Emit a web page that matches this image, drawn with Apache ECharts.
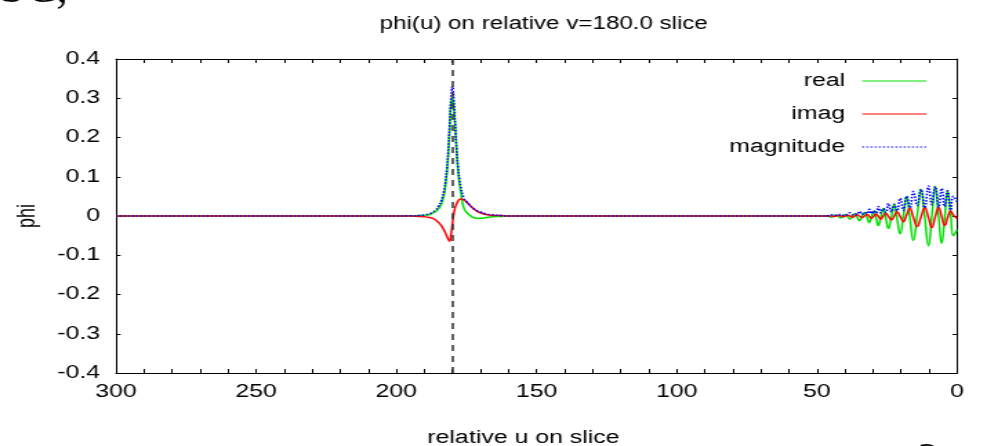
<!DOCTYPE html>
<html>
<head>
<meta charset="utf-8">
<script src="https://cdn.jsdelivr.net/npm/echarts/dist/echarts.min.js"></script>
<style>
html,body{margin:0;padding:0;background:#fff;overflow:hidden;width:987px;height:446px;}
/* the reference figure is horizontally stretched; draw at 715px and stretch to 987px */
#chart{width:715px;height:446px;transform:scaleX(1.38042);transform-origin:0 0;}
</style>
</head>
<body>
<div id="chart"></div>
<script>
// ---- data ----
const titleText = 'phi(u) on relative v=180.0 slice';
const seriesNames = ['real', 'imag', 'magnitude'];
const sliceU = 180;
const xMin = 0, xMax = 300, xStep = 50;
const yMin = -0.4, yMax = 0.4, yStep = 0.1;

const uValues = [
  0, 1.3, 2.3, 3.4, 4.4, 5.5, 6.6, 7.8, 9.0, 10.2,
  11.5, 12.9, 14.2, 15.6, 16.8, 18.0, 19.1, 20.3, 21.4, 22.4,
  23.4, 24.5, 25.4, 26.3, 27.2, 28.1, 28.9, 29.7, 30.5, 31.3,
  32.1, 33.0, 33.9, 34.8, 35.6, 36.5, 37.3, 38.2, 39.0, 39.8,
  40.6, 41.5, 42.3, 43.1, 44.0, 44.8, 46, 48, 50, 100,
  150, 160, 163, 166, 168, 170, 171, 172, 173, 174,
  175, 176, 177, 177.5, 178, 178.5, 179, 179.5, 180, 180.5,
  181, 181.5, 182, 182.5, 183, 184, 185, 186, 187, 188,
  190, 192, 195, 200, 250, 300
];

const realValues = [
  -0.035, -0.050, 0.007, 0.064, -0.003, -0.070, 0.002, 0.075, -0.001, -0.076,
  -0.004, 0.068, 0.003, -0.062, -0.006, 0.050, 0.002, -0.045, -0.007, 0.030,
  -0.001, -0.032, -0.006, 0.019, -0.002, -0.024, -0.005, 0.013, -0.002, -0.017,
  -0.004, 0.009, -0.001, -0.012, -0.003, 0.006, -0.001, -0.008, -0.002, 0.004,
  -0.001, -0.005, -0.001, 0.002, 0.000, -0.003, 0, 0, 0, 0,
  0, 0, -0.001, -0.002, -0.004, -0.006, -0.006, -0.005, -0.002, 0.003,
  0.010, 0.022, 0.060, 0.084, 0.119, 0.167, 0.228, 0.275, 0.300, 0.285,
  0.220, 0.154, 0.107, 0.075, 0.053, 0.029, 0.018, 0.011, 0.008, 0.004,
  0.002, 0.001, 0, 0, 0, 0
];

const imagValues = [
  -0.006, 0.002, 0.013, -0.005, -0.024, -0.001, 0.022, -0.003, -0.029, -0.004,
  0.021, -0.003, -0.027, -0.003, 0.020, 0.003, -0.014, -0.001, 0.011, 0.000,
  -0.010, -0.001, 0.007, 0.000, -0.008, -0.001, 0.005, 0.000, -0.006, -0.001,
  0.004, 0.000, -0.004, 0.000, 0.003, 0.000, -0.003, 0.000, 0.002, 0.000,
  -0.002, 0.000, 0.001, 0.000, -0.001, 0.000, 0, 0, 0, 0,
  0, 0, 0.001, 0.002, 0.004, 0.008, 0.011, 0.016, 0.022, 0.029,
  0.036, 0.041, 0.043, 0.042, 0.038, 0.031, 0.022, 0.006, -0.020, -0.048,
  -0.064, -0.059, -0.051, -0.043, -0.036, -0.024, -0.016, -0.010, -0.006, -0.004,
  -0.002, -0.001, 0, 0, 0, 0
];

const magValues = [
  0.036, 0.050, 0.015, 0.064, 0.024, 0.070, 0.022, 0.075, 0.029, 0.076,
  0.021, 0.068, 0.027, 0.062, 0.021, 0.050, 0.014, 0.045, 0.013, 0.030,
  0.010, 0.032, 0.009, 0.019, 0.008, 0.024, 0.007, 0.013, 0.006, 0.017,
  0.006, 0.009, 0.004, 0.012, 0.004, 0.006, 0.003, 0.008, 0.003, 0.004,
  0.002, 0.005, 0.0015, 0.002, 0.001, 0.003, 0.0005, 0, 0, 0,
  0, 0, 0.0015, 0.003, 0.0055, 0.010, 0.0126, 0.0168, 0.022, 0.029,
  0.037, 0.047, 0.074, 0.094, 0.125, 0.170, 0.232, 0.295, 0.330, 0.297,
  0.229, 0.165, 0.119, 0.087, 0.064, 0.038, 0.024, 0.015, 0.010, 0.006,
  0.003, 0.0012, 0.0005, 0, 0, 0
];

// ---- chart ----
const SX = 1.38042; // horizontal stretch of the reference figure
const FONT = '"Liberation Sans", Arial, sans-serif';
function pairs(vals) { return uValues.map((u, i) => [u, vals[i]]); }

const chart = echarts.init(document.getElementById('chart'), null, {renderer: 'canvas', width: 715, height: 446});

const axisLineStyle = {show: true, onZero: false, lineStyle: {color: '#000', width: 1}};
const xTick = {show: true, inside: true, length: 4, lineStyle: {color: '#000', width: 1}};
const xMinor = {show: true, splitNumber: 5, length: 4, lineStyle: {color: '#000', width: 1}};
const yTick = {show: true, inside: true, length: 3.3, lineStyle: {color: '#000', width: 1}};

const option = {
  backgroundColor: '#fff',
  animation: false,
  title: {
    text: titleText,
    left: 270, top: 10,
    textStyle: {fontFamily: FONT, fontSize: 17.5, fontWeight: 'normal', color: '#000'}
  },
  legend: {
    data: seriesNames,
    orient: 'vertical',
    right: 38.5, top: 67,
    align: 'right',
    itemWidth: 46.4, itemHeight: 14, itemGap: 15,
    selectedMode: false,
    itemStyle: {opacity: 0},
    lineStyle: {width: 1},
    formatter: name => '{n|' + name + '}',
    textStyle: {
      fontFamily: FONT, fontSize: 18, color: '#000',
      rich: {n: {fontFamily: FONT, fontSize: 18, color: '#000', padding: [0, 7.3, 0, 0]}}
    }
  },
  grid: {left: 84, right: 21.7, top: 59, bottom: 73, containLabel: false, outerBoundsMode: 'none'},
  xAxis: [
    {
      type: 'value', min: xMin, max: xMax, interval: xStep, inverse: true, position: 'bottom',
      axisLine: axisLineStyle, axisTick: xTick, minorTick: xMinor,
      splitLine: {show: false},
      axisLabel: {fontFamily: FONT, fontSize: 18, color: '#000', margin: 10},
      name: 'relative u on slice', nameLocation: 'middle', nameGap: 56,
      nameTextStyle: {fontFamily: FONT, fontSize: 18, color: '#000', padding: [0, 19, 0, 0]}
    },
    {
      type: 'value', min: xMin, max: xMax, interval: xStep, inverse: true, position: 'top',
      axisLine: axisLineStyle, axisTick: xTick, minorTick: xMinor,
      splitLine: {show: false}, axisLabel: {show: false}
    }
  ],
  yAxis: [
    {
      type: 'value', min: yMin, max: yMax, interval: yStep, position: 'left',
      axisLine: axisLineStyle, axisTick: yTick, splitLine: {show: false},
      axisLabel: {fontFamily: FONT, fontSize: 18, color: '#000', margin: 11.6},
      name: 'phi', nameLocation: 'middle', nameGap: 55, nameRotate: 90,
      nameTextStyle: {fontFamily: FONT, fontSize: 18, color: '#000'}
    },
    {
      type: 'value', min: yMin, max: yMax, interval: yStep, position: 'right',
      axisLine: axisLineStyle, axisTick: yTick, splitLine: {show: false},
      axisLabel: {show: false}
    }
  ],
  series: [
    {
      name: 'real', type: 'line', data: pairs(realValues), symbol: 'none', smooth: 0.5,
      lineStyle: {color: '#00e000', width: 1.5}, itemStyle: {color: '#00e000'}, z: 2
    },
    {
      name: 'imag', type: 'line', data: pairs(imagValues), symbol: 'none', smooth: 0.5,
      lineStyle: {color: '#ff0000', width: 1.5}, itemStyle: {color: '#ff0000'}, z: 3
    },
    {
      name: 'magnitude', type: 'line', data: pairs(magValues), symbol: 'none', smooth: 0.5,
      lineStyle: {color: '#0000ff', width: 1.6, type: [1.5, 1.5]}, itemStyle: {color: '#0000ff'}, z: 4,
      markLine: {
        silent: true, symbol: 'none', label: {show: false},
        lineStyle: {color: '#333', width: 1.5, type: [6, 5]},
        data: [{xAxis: sliceU}]
      }
    }
  ],
  graphic: [
    {type: 'text', x: 0, y: -10, scaleX: 1 / SX, silent: true,
     style: {text: 'SC,', font: '46px "Liberation Serif", serif', fill: '#000', verticalAlign: 'middle'}},
    {type: 'text', x: 928 / SX, y: 459, scaleX: 1 / SX, silent: true,
     style: {text: '3', font: '40px "Liberation Serif", serif', fill: '#000', align: 'center', verticalAlign: 'middle'}}
  ]
};
chart.setOption(option);
</script>
</body>
</html>
